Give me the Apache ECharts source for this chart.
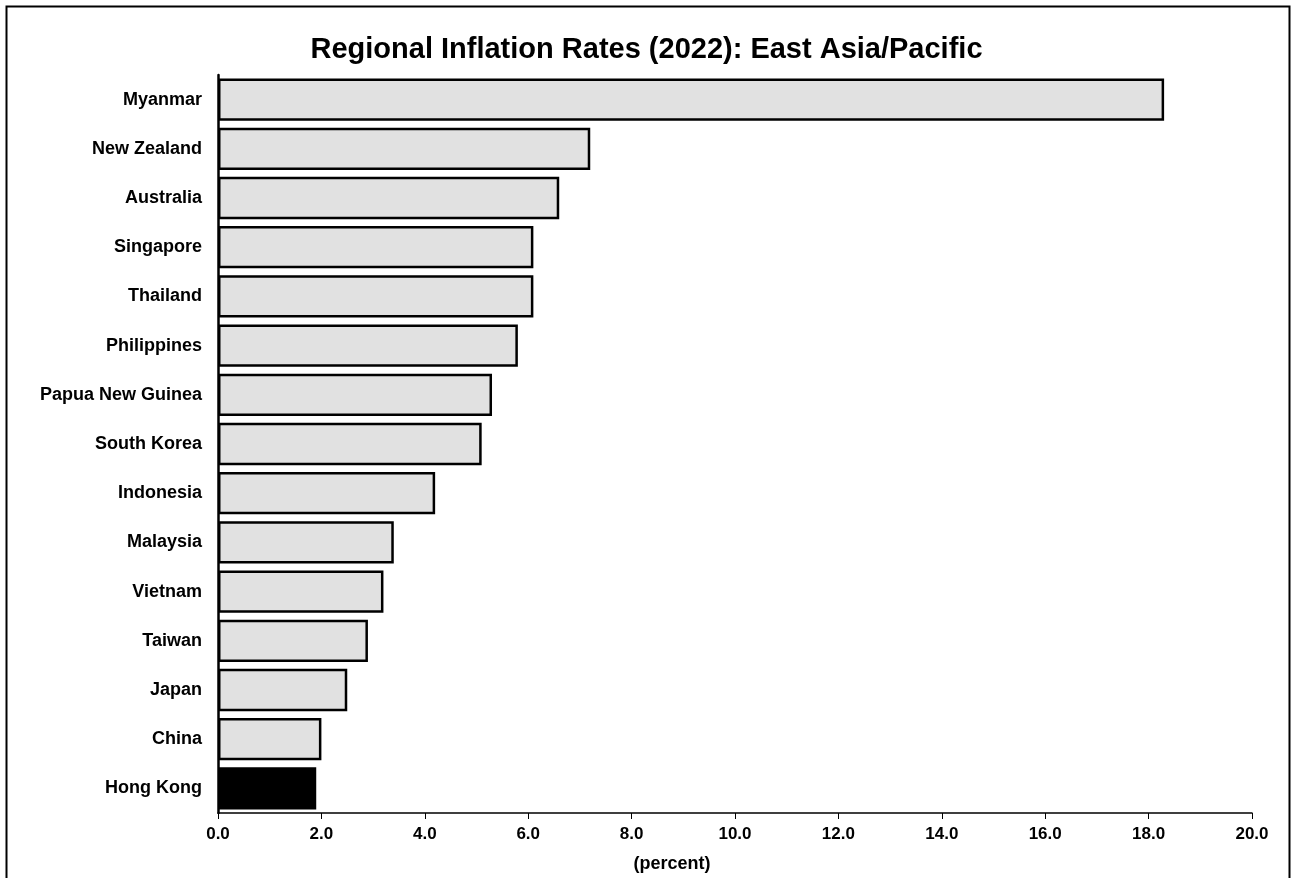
<!DOCTYPE html>
<html>
<head>
<meta charset="utf-8">
<script src="https://cdn.jsdelivr.net/npm/echarts@6/dist/echarts.min.js"></script>
<style>
  html, body { margin: 0; padding: 0; background: #fff; }
  #chart { width: 1293px; height: 878px; }
</style>
</head>
<body>
<div id="chart"></div>
<script>
// Inflation by country, 2022 (percent), top to bottom
const countries = ['Myanmar', 'New Zealand', 'Australia', 'Singapore', 'Thailand', 'Philippines',
  'Papua New Guinea', 'South Korea', 'Indonesia', 'Malaysia', 'Vietnam', 'Taiwan', 'Japan', 'China', 'Hong Kong'];
const inflation = [18.3, 7.2, 6.6, 6.1, 6.1, 5.8, 5.3, 5.1, 4.2, 3.4, 3.2, 2.9, 2.5, 2.0, 1.9];
const highlight = 'Hong Kong';
const xTicks = { min: 0, max: 20, interval: 2 };

const font = 'Arial, "Liberation Sans", Helvetica, sans-serif';
const chart = echarts.init(document.getElementById('chart'));

// Category axis runs bottom-up, so reverse to keep the first country on top
const cats = countries.slice().reverse();
const vals = inflation.slice().reverse();

chart.setOption({
  animation: false,
  backgroundColor: '#fff',
  title: {
    text: 'Regional Inflation Rates (2022): East Asia/Pacific',
    left: 'center',
    top: 30,
    textStyle: { fontFamily: font, fontWeight: 'bold', fontSize: 29, color: '#000' }
  },
  graphic: [{
    type: 'rect',
    shape: { x: 6.5, y: 6.5, width: 1283, height: 900 },
    style: { fill: 'none', stroke: '#000', lineWidth: 2 },
    silent: true
  }],
  grid: { left: 218, right: 41, top: 75, bottom: 64 },
  xAxis: {
    type: 'value',
    min: xTicks.min, max: xTicks.max, interval: xTicks.interval,
    name: '(percent)',
    nameLocation: 'middle',
    nameGap: 42,
    nameTextStyle: {
      fontFamily: font, fontWeight: 'bold', fontSize: 18, color: '#000',
      padding: [0, 126, 0, 0]
    },
    axisLine: { show: true, lineStyle: { color: '#000', width: 1.5 } },
    axisTick: { show: true, length: 6, lineStyle: { color: '#000', width: 1 } },
    splitLine: { show: false },
    axisLabel: {
      fontFamily: font, fontWeight: 'bold', fontSize: 17, color: '#000', margin: 13,
      formatter: v => v.toFixed(1)
    }
  },
  yAxis: {
    type: 'category',
    data: cats,
    axisLine: { show: true, lineStyle: { color: '#000', width: 2.5 } },
    axisTick: { show: false },
    axisLabel: { fontFamily: font, fontWeight: 'bold', fontSize: 18, color: '#000', margin: 16 }
  },
  series: [{
    type: 'bar',
    data: vals.map((v, i) => ({
      value: v,
      itemStyle: cats[i] === highlight ? { color: '#000', borderColor: '#000' } : undefined
    })),
    barCategoryGap: '14%',
    itemStyle: { color: '#e1e1e1', borderColor: '#000', borderWidth: 2.5 }
  }]
});
</script>
</body>
</html>
